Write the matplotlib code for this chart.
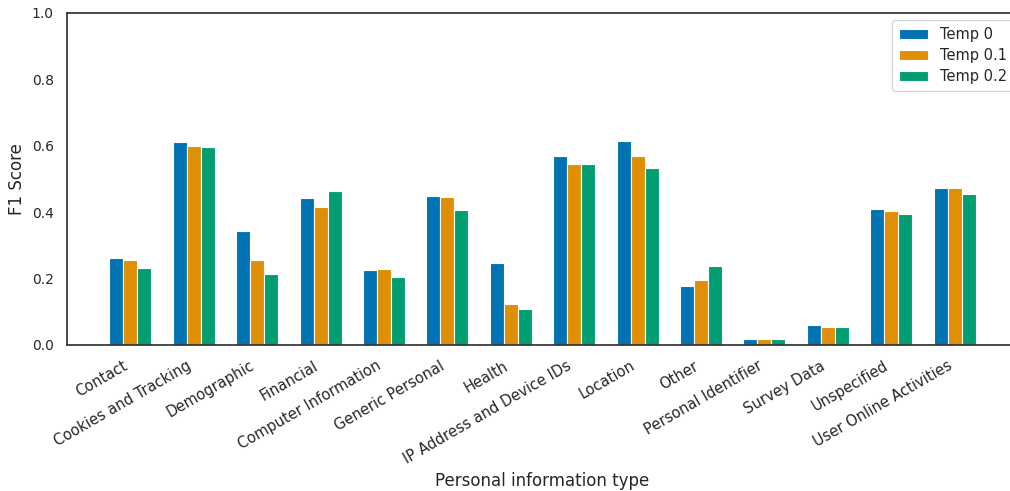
import numpy as np
import matplotlib
matplotlib.use("Agg")
import matplotlib.pyplot as plt
import seaborn as sns

categories = ["Contact", "Cookies and Tracking", "Demographic", "Financial",
              "Computer Information", "Generic Personal", "Health",
              "IP Address and Device IDs", "Location", "Other",
              "Personal Identifier", "Survey Data", "Unspecified",
              "User Online Activities"]
temp_0 = [0.262, 0.610, 0.343, 0.443, 0.225, 0.448, 0.248, 0.570, 0.613,
          0.179, 0.017, 0.059, 0.410, 0.474]
temp_01 = [0.255, 0.598, 0.256, 0.415, 0.229, 0.447, 0.123, 0.545, 0.570,
           0.196, 0.019, 0.055, 0.404, 0.474]
temp_02 = [0.231, 0.596, 0.214, 0.463, 0.205, 0.407, 0.108, 0.545, 0.532,
           0.238, 0.019, 0.055, 0.396, 0.456]
series_names = ["Temp 0", "Temp 0.1", "Temp 0.2"]

sns.set_theme(style="white", palette="colorblind")
plt.rcParams['font.family'] = ['DejaVu Sans']
colors = sns.color_palette("colorblind")

fig = plt.figure(figsize=(10.1, 4.91), dpi=100)
ax = fig.add_axes([67 / 1010, 1 - 345 / 491, 951 / 1010, 332 / 491])

x = np.arange(len(categories))
w = 0.22
for i, (vals, name) in enumerate(zip([temp_0, temp_01, temp_02], series_names)):
    ax.bar(x + (i - 1) * w, vals, width=w, color=colors[i], label=name,
           edgecolor="white", linewidth=0.8)

ax.set_xlim(-1, 14)
ax.set_ylim(0, 1.0)
ax.set_yticks([0, 0.2, 0.4, 0.6, 0.8, 1.0])
ax.set_yticklabels(["0.0", "0.2", "0.4", "0.6", "0.8", "1.0"], fontsize=10)
ax.set_xticks(x)
ax.set_xticklabels(categories, rotation=30, ha="right", fontsize=10.5)
ax.set_ylabel("F1 Score", fontsize=12)
ax.set_xlabel("Personal information type", fontsize=12)
for s in ax.spines.values():
    s.set_color("0.2")
    s.set_linewidth(1.25)

leg = ax.legend(loc="upper left", bbox_to_anchor=(0.860, 1.0),
                fontsize=10.5, labelspacing=0.42, borderpad=0.45, frameon=True)

fig.savefig("out.png", dpi=100)
